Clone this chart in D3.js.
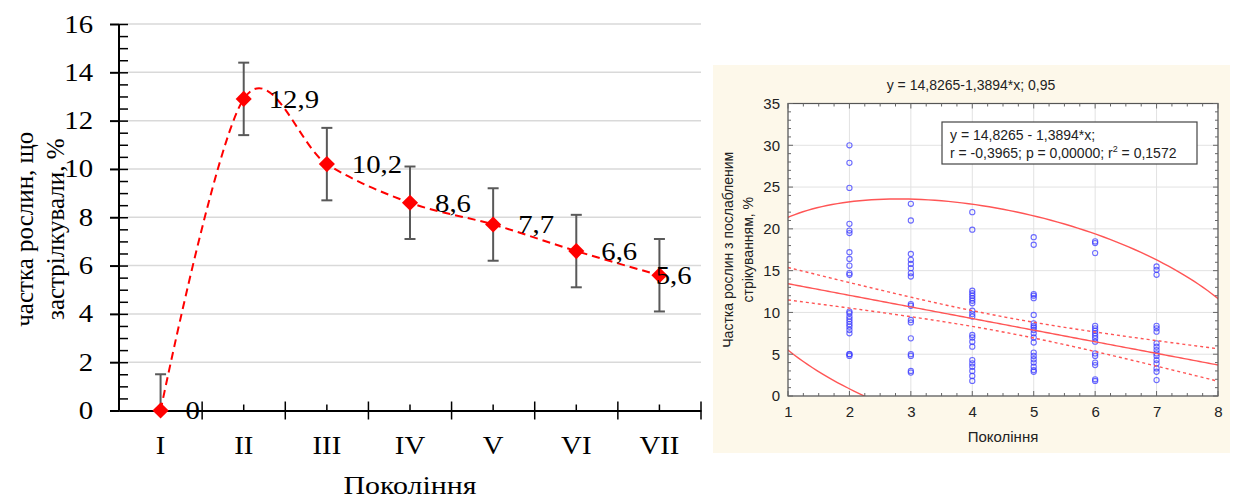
<!DOCTYPE html>
<html lang="uk">
<head>
  <meta charset="UTF-8">
  <title>Частка рослин по поколіннях</title>
  <script src="https://cdn.jsdelivr.net/npm/d3@7"></script>
  <style>
    body { margin: 0; background: #fff; }
  </style>
</head>
<body>
<div id="container"></div>
<script>
  // --- ліва діаграма: середні значення по поколіннях ---
  const generations = ["I", "II", "III", "IV", "V", "VI", "VII"];
  const shareValues = [0, 12.9, 10.2, 8.6, 7.7, 6.6, 5.6];
  const shareErrors = [1.5, 1.5, 1.5, 1.5, 1.5, 1.5, 1.5];
  const shareLabels = ["0", "12,9", "10,2", "8,6", "7,7", "6,6", "5,6"];
  const leftYTicks = [0, 2, 4, 6, 8, 10, 12, 14, 16];

  // --- права діаграма: розсіювання ---
  const scatterX = [2, 3, 4, 5, 6, 7];
  const scatterY = [
    [30.0, 27.9, 24.9, 20.6, 19.8, 19.5, 17.2, 16.4, 15.6, 14.7, 14.5, 10.1, 9.9, 9.5, 9.2, 8.9, 8.6, 8.3, 7.9, 7.5, 5.0, 5.0, 4.8],
    [23.0, 21.0, 17.0, 16.3, 15.8, 15.3, 14.7, 14.3, 11.0, 10.8, 9.1, 8.8, 6.9, 5.0, 4.8, 3.0, 2.8],
    [22.0, 19.9, 12.6, 12.3, 12.0, 11.7, 11.4, 11.1, 10.2, 9.8, 9.5, 7.3, 7.0, 6.5, 5.9, 4.3, 3.9, 3.5, 3.0, 2.4, 1.8],
    [19.0, 18.1, 12.2, 12.0, 11.7, 9.7, 8.7, 8.4, 8.2, 7.9, 7.5, 7.0, 6.4, 5.2, 4.8, 4.4, 4.0, 3.5, 3.1, 2.9],
    [18.5, 18.3, 17.1, 8.4, 8.1, 7.8, 7.5, 7.2, 6.9, 6.5, 5.1, 4.8, 4.0, 3.7, 2.0, 1.8],
    [15.5, 15.1, 14.5, 8.4, 8.1, 7.7, 6.3, 5.9, 5.5, 5.1, 4.8, 4.3, 3.9, 3.3, 2.9, 1.9]
  ];
  const rightXTicks = [1, 2, 3, 4, 5, 6, 7, 8];
  const rightYTicks = [0, 5, 10, 15, 20, 25, 30, 35];

  // регресія та довірчі смуги (оцінені з рисунка)
  const intercept = 14.8265;
  const slope = -1.3894;
  const bandMeanX = 4.5;
  const bandSe0 = 0.91;
  const bandSlopeSe = 0.49;
  // еліпс 0,95
  const ellMeanX = 4.5;
  const ellSdX = 1.75;
  const ellSdY = 6.13;
  const ellR = -0.3965;
  const ellK = Math.sqrt(5.991);

  const width = 1235, height = 499;

  const svg = d3.select("#container")
    .append("svg")
    .attr("width", width)
    .attr("height", height)
    .attr("viewBox", [0, 0, width, height]);

  // ================= ЛІВА ДІАГРАМА =================
  const serif = "'Liberation Serif', 'Times New Roman', serif";
  const stretch = 1.15; // шрифт у оригіналі ширший
  const L = { left: 119, right: 701, top: 24, bottom: 410.5 };

  const x = d3.scaleBand()
    .domain(generations)
    .range([L.left, L.right])
    .padding(0);

  const y = d3.scaleLinear()
    .domain([0, 16])
    .range([L.bottom, L.top]);

  const left = svg.append("g");

  // розтягнути текст по горизонталі
  function widen(sel) {
    sel.each(function () {
      const w = this.getComputedTextLength();
      d3.select(this).attr("textLength", w * stretch).attr("lengthAdjust", "spacingAndGlyphs");
    });
  }

  // сітка
  left.append("g")
    .selectAll("line")
    .data(leftYTicks.filter(d => d > 0))
    .join("line")
    .attr("x1", L.left).attr("x2", L.right)
    .attr("y1", d => y(d)).attr("y2", d => y(d))
    .attr("stroke", "#d9d9d9")
    .attr("stroke-width", 1.5);

  // вісь Y
  left.append("g")
    .attr("transform", `translate(${L.left},0)`)
    .call(d3.axisLeft(y).tickValues(leftYTicks).tickSize(9).tickPadding(17))
    .call(g => g.select(".domain").remove())
    .call(g => g.selectAll("line").attr("stroke", "#000").attr("stroke-width", 2))
    .call(g => g.selectAll("text").attr("font-family", serif).attr("font-size", 25).attr("fill", "#000").call(widen));

  left.append("g")
    .attr("transform", `translate(${L.left},0)`)
    .call(d3.axisRight(y).ticks(40).tickSize(9).tickFormat(""))
    .call(g => g.select(".domain").remove())
    .call(g => g.selectAll("line").attr("stroke", "#000").attr("stroke-width", 1.5));

  left.append("line")
    .attr("x1", L.left).attr("x2", L.left)
    .attr("y1", L.top).attr("y2", L.bottom)
    .attr("stroke", "#000").attr("stroke-width", 2);

  // вісь X
  left.append("g")
    .attr("transform", `translate(0,${L.bottom})`)
    .call(d3.axisBottom(x).tickSize(0).tickPadding(26))
    .call(g => g.select(".domain").attr("stroke", "#000").attr("stroke-width", 2))
    .call(g => g.selectAll("text").attr("font-family", serif).attr("font-size", 25).attr("fill", "#000").call(widen));

  const bounds = generations.map(d => x(d)).concat([L.right]);
  left.append("g")
    .selectAll("line")
    .data(bounds.slice(1))
    .join("line")
    .attr("x1", d => d).attr("x2", d => d)
    .attr("y1", L.bottom - 9).attr("y2", L.bottom + 9)
    .attr("stroke", "#000").attr("stroke-width", 1.5);

  left.append("g")
    .selectAll("line")
    .data(generations)
    .join("line")
    .attr("x1", d => x(d) + x.bandwidth() / 2).attr("x2", d => x(d) + x.bandwidth() / 2)
    .attr("y1", L.bottom - 6).attr("y2", L.bottom)
    .attr("stroke", "#000").attr("stroke-width", 1.5);

  const cx = i => x(generations[i]) + x.bandwidth() / 2;

  // похибки
  const eb = left.append("g").attr("stroke", "#595959").attr("stroke-width", 2);
  shareValues.forEach((v, i) => {
    const lo = Math.max(0, v - shareErrors[i]);
    const hi = v + shareErrors[i];
    eb.append("line").attr("x1", cx(i)).attr("x2", cx(i)).attr("y1", y(lo)).attr("y2", y(hi));
    eb.append("line").attr("x1", cx(i) - 5.5).attr("x2", cx(i) + 5.5).attr("y1", y(hi)).attr("y2", y(hi));
    if (v - shareErrors[i] >= 0) {
      eb.append("line").attr("x1", cx(i) - 5.5).attr("x2", cx(i) + 5.5).attr("y1", y(lo)).attr("y2", y(lo));
    }
  });

  // згладжена лінія
  left.append("path")
    .datum(shareValues)
    .attr("fill", "none")
    .attr("stroke", "#ff0000")
    .attr("stroke-width", 2)
    .attr("stroke-dasharray", "8,5")
    .attr("d", d3.line().x((d, i) => cx(i)).y(d => y(d)).curve(d3.curveCardinal.tension(0)));

  // маркери
  left.append("g")
    .selectAll("path")
    .data(shareValues)
    .join("path")
    .attr("transform", (d, i) => `translate(${cx(i)},${y(d)}) rotate(45)`)
    .attr("d", d3.symbol(d3.symbolSquare, 130))
    .attr("fill", "#ff0000");

  // підписи значень
  left.append("g")
    .selectAll("text")
    .data(shareLabels)
    .join("text")
    .attr("x", (d, i) => cx(i) + 25)
    .attr("y", (d, i) => y(shareValues[i]))
    .attr("dy", "0.35em")
    .attr("font-family", serif)
    .attr("font-size", 25)
    .text(d => d)
    .call(widen)
    .each(function (d, i) {
      const w = this.getComputedTextLength() * stretch;
      if (cx(i) + 25 + w > L.right - 4) d3.select(this).attr("x", L.right - 4 - w);
    });

  // назви осей
  left.append("text")
    .attr("x", (L.left + L.right) / 2)
    .attr("y", 494)
    .attr("text-anchor", "middle")
    .attr("font-family", serif)
    .attr("font-size", 26)
    .text("Покоління")
    .call(widen);

  const yTitle = left.append("text")
    .attr("transform", `translate(0,${(L.top + L.bottom) / 2 + 12}) rotate(-90)`)
    .attr("text-anchor", "middle")
    .attr("font-family", serif)
    .attr("font-size", 25);
  yTitle.append("tspan").attr("x", 0).attr("y", 33).text("частка рослин, що");
  yTitle.append("tspan").attr("x", 0).attr("y", 64).text("застрілкували, %");

  // ================= ПРАВА ДІАГРАМА =================
  const sans = "'Liberation Sans', Arial, sans-serif";
  const R = { left: 788, right: 1218, top: 103.5, bottom: 396 };

  const right = svg.append("g");

  right.append("rect")
    .attr("x", 713).attr("y", 65)
    .attr("width", 517).attr("height", 388)
    .attr("fill", "#fdf8ea");

  right.append("rect")
    .attr("x", R.left).attr("y", R.top)
    .attr("width", R.right - R.left).attr("height", R.bottom - R.top)
    .attr("fill", "#fff");

  const sx = d3.scaleLinear().domain([1, 8]).range([R.left, R.right]);
  const sy = d3.scaleLinear().domain([0, 35]).range([R.bottom, R.top]);

  // сітка
  right.append("g")
    .selectAll("line")
    .data(rightXTicks)
    .join("line")
    .attr("x1", d => sx(d)).attr("x2", d => sx(d))
    .attr("y1", R.top).attr("y2", R.bottom)
    .attr("stroke", "#e2e2e2");
  right.append("g")
    .selectAll("line")
    .data(rightYTicks)
    .join("line")
    .attr("x1", R.left).attr("x2", R.right)
    .attr("y1", d => sy(d)).attr("y2", d => sy(d))
    .attr("stroke", "#e2e2e2");

  // точки
  const pts = scatterX.flatMap((g, i) => scatterY[i].map(v => [g, v]));
  right.append("g")
    .selectAll("circle")
    .data(pts)
    .join("circle")
    .attr("cx", d => sx(d[0]))
    .attr("cy", d => sy(d[1]))
    .attr("r", 2.6)
    .attr("fill", "none")
    .attr("stroke", "#3b3bff")
    .attr("stroke-opacity", 0.75)
    .attr("stroke-width", 1.1);

  // лінії регресії
  svg.append("clipPath").attr("id", "plotClip")
    .append("rect")
    .attr("x", R.left).attr("y", R.top)
    .attr("width", R.right - R.left).attr("height", R.bottom - R.top);

  const fit = right.append("g").attr("clip-path", "url(#plotClip)")
    .attr("fill", "none").attr("stroke", "#ff5555").attr("stroke-width", 1.4);

  const xs = d3.range(1, 8.001, 0.05);
  const lineF = v => intercept + slope * v;
  const band = v => Math.sqrt(bandSe0 * bandSe0 + bandSlopeSe * bandSlopeSe * (v - bandMeanX) * (v - bandMeanX));
  const ln = d3.line().x(d => sx(d[0])).y(d => sy(d[1]));

  fit.append("path").attr("d", ln(xs.map(v => [v, lineF(v)])));
  fit.append("path").attr("stroke-dasharray", "3,3").attr("d", ln(xs.map(v => [v, lineF(v) + band(v)])));
  fit.append("path").attr("stroke-dasharray", "3,3").attr("d", ln(xs.map(v => [v, lineF(v) - band(v)])));

  const ellMeanY = lineF(ellMeanX);
  const ts = d3.range(0, 2 * Math.PI + 0.001, Math.PI / 120);
  const ell = ts.map(t => [
    ellMeanX + ellK * ellSdX * Math.cos(t),
    ellMeanY + ellK * ellSdY * (ellR * Math.cos(t) + Math.sqrt(1 - ellR * ellR) * Math.sin(t))
  ]);
  fit.append("path").attr("d", ln(ell));

  // рамка та поділки
  right.append("rect")
    .attr("x", R.left).attr("y", R.top)
    .attr("width", R.right - R.left).attr("height", R.bottom - R.top)
    .attr("fill", "none").attr("stroke", "#555").attr("stroke-width", 1.2);

  const tickG = right.append("g").attr("stroke", "#666").attr("stroke-width", 1);
  const xMinor = d3.range(1, 8.001, 0.25);
  const yMinor = d3.range(0, 35.001, 1);
  tickG.selectAll(".xb").data(xMinor).join("line")
    .attr("x1", d => sx(d)).attr("x2", d => sx(d))
    .attr("y1", R.bottom).attr("y2", d => R.bottom - (Number.isInteger(d) ? 5 : 3));
  tickG.selectAll(".xt").data(xMinor).join("line")
    .attr("x1", d => sx(d)).attr("x2", d => sx(d))
    .attr("y1", R.top).attr("y2", d => R.top + (Number.isInteger(d) ? 5 : 3));
  tickG.selectAll(".yl").data(yMinor).join("line")
    .attr("y1", d => sy(d)).attr("y2", d => sy(d))
    .attr("x1", R.left).attr("x2", d => R.left + (d % 5 === 0 ? 5 : 3));
  tickG.selectAll(".yr").data(yMinor).join("line")
    .attr("y1", d => sy(d)).attr("y2", d => sy(d))
    .attr("x1", R.right).attr("x2", d => R.right - (d % 5 === 0 ? 5 : 3));

  // підписи осей
  right.append("g")
    .attr("transform", `translate(0,${R.bottom})`)
    .call(d3.axisBottom(sx).tickValues(rightXTicks).tickSize(0).tickPadding(10).tickFormat(d3.format("d")))
    .call(g => g.select(".domain").remove())
    .call(g => g.selectAll("text").attr("font-family", sans).attr("font-size", 15).attr("fill", "#222"));

  right.append("g")
    .attr("transform", `translate(${R.left},0)`)
    .call(d3.axisLeft(sy).tickValues(rightYTicks).tickSize(0).tickPadding(8).tickFormat(d3.format("d")))
    .call(g => g.select(".domain").remove())
    .call(g => g.selectAll("text").attr("font-family", sans).attr("font-size", 15).attr("fill", "#222"));

  right.append("text")
    .attr("x", 971).attr("y", 90)
    .attr("text-anchor", "middle")
    .attr("font-family", sans).attr("font-size", 14).attr("fill", "#222")
    .text("y = 14,8265-1,3894*x; 0,95");

  right.append("text")
    .attr("x", (R.left + R.right) / 2).attr("y", 442)
    .attr("text-anchor", "middle")
    .attr("font-family", sans).attr("font-size", 15).attr("fill", "#222")
    .text("Покоління");

  const rTitle = right.append("text")
    .attr("transform", `translate(0,${(R.top + R.bottom) / 2}) rotate(-90)`)
    .attr("text-anchor", "middle")
    .attr("font-family", sans).attr("font-size", 14).attr("fill", "#222");
  rTitle.append("tspan").attr("x", 0).attr("y", 733).text("Частка рослин з послабленим");
  rTitle.append("tspan").attr("x", 0).attr("y", 753).text("стрікуванням, %");

  // легенда
  right.append("rect")
    .attr("x", 942).attr("y", 122)
    .attr("width", 255).attr("height", 42)
    .attr("fill", "#fff").attr("stroke", "#444").attr("stroke-width", 1.2);

  right.append("text")
    .attr("x", 950).attr("y", 139.5)
    .attr("font-family", sans).attr("font-size", 14).attr("fill", "#222")
    .text("y = 14,8265 - 1,3894*x;");

  const leg2 = right.append("text")
    .attr("x", 950).attr("y", 157.5)
    .attr("font-family", sans).attr("font-size", 14).attr("fill", "#222");
  leg2.append("tspan").text("r = -0,3965; p = 0,00000; r");
  leg2.append("tspan").attr("font-size", 9).attr("dy", -6).text("2");
  leg2.append("tspan").attr("dy", 6).text(" = 0,1572");
</script>
</body>
</html>
